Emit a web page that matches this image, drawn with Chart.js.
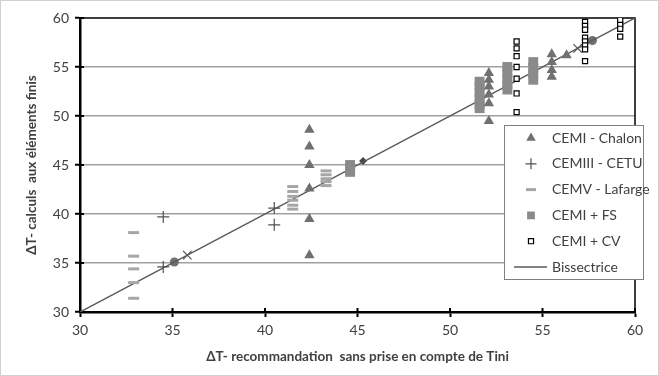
<!DOCTYPE html>
<html>
<head>
<meta charset="utf-8">
<script src="https://cdn.jsdelivr.net/npm/chart.js@4.4.1/dist/chart.umd.min.js"></script>
<style>
  html, body { margin: 0; padding: 0; background: #fff; }
  canvas { display: block; }
</style>
</head>
<body>
<canvas id="chart" width="659" height="376"></canvas>
<script>
// Valeurs
const axisTicks = [30, 35, 40, 45, 50, 55, 60];

const chalonX = [42.4, 42.4, 42.4, 42.4, 42.4, 42.4, 52.1, 52.1, 52.1, 52.1, 52.1, 52.1, 55.5, 55.5, 55.5, 55.5, 56.3];
const chalonY = [48.6, 46.9, 45.0, 42.6, 39.5, 35.8, 54.4, 53.7, 53.0, 52.2, 51.3, 49.5, 56.3, 55.5, 54.7, 54.0, 56.2];

const cetuX = [34.5, 34.5, 40.5, 40.5];
const cetuY = [39.7, 34.6, 40.6, 38.9];

const lafargeX = [32.9, 32.9, 32.9, 32.9, 32.9, 41.5, 41.5, 41.5, 41.5, 41.5, 41.5, 43.3, 43.3, 43.3, 43.3, 43.3];
const lafargeY = [38.1, 35.7, 34.4, 33.0, 31.4, 42.8, 42.3, 41.8, 41.4, 40.9, 40.5, 44.4, 44.0, 43.6, 43.3, 42.9];

const fsX = [44.6, 44.6, 44.6, 44.6, 51.6, 51.6, 51.6, 51.6, 51.6, 51.6, 53.1, 53.1, 53.1, 53.1, 53.1, 54.5, 54.5, 54.5, 54.5];
const fsY = [45.0, 44.75, 44.5, 44.3, 53.5, 53.0, 52.4, 51.8, 51.2, 50.8, 55.0, 54.4, 53.8, 53.2, 52.7, 55.5, 54.9, 54.3, 53.7];

const cvX = [53.6, 53.6, 53.6, 53.6, 53.6, 53.6, 53.6, 57.3, 57.3, 57.3, 57.3, 57.3, 57.3, 57.3, 57.3, 59.2, 59.2, 59.2, 59.2];
const cvY = [57.6, 56.9, 56.1, 55.0, 53.8, 52.3, 50.4, 59.6, 59.2, 58.8, 58.0, 57.6, 57.2, 56.8, 55.6, 59.8, 59.3, 58.9, 58.1];

const bisX = [30, 60];
const bisY = [30, 60];

// Points supplémentaires sur la bissectrice (hors légende)
const circleX = [35.1, 57.7];
const circleY = [35.1, 57.7];
const crossRotX = [35.8, 56.9];
const crossRotY = [35.8, 56.9];
const diamondX = [45.3];
const diamondY = [45.4];

const FONT = "Lato, 'Open Sans', sans-serif";
const TEXT = '#404040';

function pts(xs, ys) {
    return xs.map((x, i) => ({ x: x, y: ys[i] }));
}

// Cadre, axes et graduations croisées
const framePlugin = {
    id: 'frame',
    beforeDatasetsDraw(chart) {
        const { ctx, chartArea: a, scales } = chart;
        ctx.save();
        ctx.strokeStyle = '#000';
        // bord haut et droit
        ctx.lineWidth = 1.5;
        ctx.beginPath();
        ctx.moveTo(a.left, a.top);
        ctx.lineTo(a.right, a.top);
        ctx.lineTo(a.right, a.bottom);
        ctx.stroke();
        // graduations intérieures
        ctx.lineWidth = 2;
        axisTicks.forEach(v => {
            const py = scales.y.getPixelForValue(v);
            ctx.beginPath();
            ctx.moveTo(a.left, py);
            ctx.lineTo(a.left + 4, py);
            ctx.stroke();
            const px = scales.x.getPixelForValue(v);
            ctx.beginPath();
            ctx.moveTo(px, a.bottom);
            ctx.lineTo(px, a.bottom - 4);
            ctx.stroke();
        });
        ctx.restore();
    },
    afterDraw(chart) {
        const { ctx } = chart;
        ctx.save();
        ctx.strokeStyle = '#d0d0d0';
        ctx.lineWidth = 1;
        ctx.strokeRect(0.5, 0.5, chart.width - 1, chart.height - 1);
        ctx.restore();
    }
};

// Légende dessinée dans la zone du graphique
const legendPlugin = {
    id: 'boxLegend',
    afterDraw(chart) {
        const { ctx } = chart;
        const items = chart.data.datasets.filter(d => d.inLegend);
        const box = { x: 504, y: 125, w: 139, h: 154 };
        ctx.save();
        ctx.fillStyle = '#fff';
        ctx.fillRect(box.x, box.y, box.w, box.h);
        ctx.strokeStyle = '#808080';
        ctx.lineWidth = 1;
        ctx.strokeRect(box.x + 0.5, box.y + 0.5, box.w, box.h);
        ctx.font = '14px ' + FONT;
        ctx.textBaseline = 'middle';
        items.forEach((d, i) => {
            const cy = 138 + i * 25.8;
            if (d.showLine) {
                ctx.strokeStyle = d.borderColor;
                ctx.lineWidth = d.borderWidth;
                ctx.beginPath();
                ctx.moveTo(514, cy);
                ctx.lineTo(547, cy);
                ctx.stroke();
            } else {
                ctx.fillStyle = d.backgroundColor;
                ctx.strokeStyle = d.borderColor;
                ctx.lineWidth = d.pointBorderWidth;
                Chart.helpers.drawPoint(ctx, {
                    pointStyle: d.pointStyle,
                    radius: d.legendRadius,
                    borderWidth: d.pointBorderWidth,
                    rotation: 0
                }, 531, cy);
            }
            ctx.fillStyle = TEXT;
            ctx.fillText(d.label, 552, cy);
        });
        ctx.restore();
    }
};

const datasets = [
    {
        label: 'CEMI - Chalon', data: pts(chalonX, chalonY), inLegend: true,
        pointStyle: 'triangle', pointRadius: 6, legendRadius: 5.5, pointBorderWidth: 0,
        backgroundColor: '#707070', borderColor: '#707070'
    },
    {
        label: 'CEMIII - CETU', data: pts(cetuX, cetuY), inLegend: true,
        pointStyle: 'cross', pointRadius: 6, legendRadius: 5.5, pointBorderWidth: 1.2,
        backgroundColor: '#505050', borderColor: '#505050'
    },
    {
        label: 'CEMV - Lafarge', data: pts(lafargeX, lafargeY), inLegend: true,
        pointStyle: 'line', pointRadius: 5.5, legendRadius: 5, pointBorderWidth: 3,
        backgroundColor: '#a6a6a6', borderColor: '#a6a6a6'
    },
    {
        label: 'CEMI + FS', data: pts(fsX, fsY), inLegend: true,
        pointStyle: 'rect', pointRadius: 7, legendRadius: 5.5, pointBorderWidth: 0,
        backgroundColor: '#8a8a8a', borderColor: '#8a8a8a'
    },
    {
        label: 'CEMI + CV', data: pts(cvX, cvY), inLegend: true,
        pointStyle: 'rect', pointRadius: 3.6, legendRadius: 3.6, pointBorderWidth: 1.2,
        backgroundColor: '#ffffff', borderColor: '#000000'
    },
    {
        label: 'Bissectrice', data: pts(bisX, bisY), inLegend: true,
        showLine: true, pointRadius: 0, borderWidth: 1.5,
        borderColor: '#5a5a5a', backgroundColor: '#5a5a5a'
    },
    {
        label: 'cercles', data: pts(circleX, circleY),
        pointStyle: 'circle', pointRadius: 4.5, pointBorderWidth: 0,
        backgroundColor: '#707070', borderColor: '#707070'
    },
    {
        label: 'croix', data: pts(crossRotX, crossRotY),
        pointStyle: 'crossRot', pointRadius: 6, pointBorderWidth: 1.2,
        backgroundColor: '#505050', borderColor: '#505050'
    },
    {
        label: 'losange', data: pts(diamondX, diamondY),
        pointStyle: 'rectRot', pointRadius: 4, pointBorderWidth: 0,
        backgroundColor: '#454545', borderColor: '#454545'
    }
];

datasets.forEach(d => {
    if (d.pointBorderWidth !== undefined) d.borderWidth = d.pointBorderWidth;
    d.pointHoverRadius = d.pointRadius;
});

const tickFont = { family: FONT, size: 14 };
const titleFont = { family: FONT, size: 13.5, weight: 'bold' };

new Chart(document.getElementById('chart'), {
    type: 'scatter',
    data: { datasets: datasets },
    options: {
        responsive: false,
        animation: false,
        events: [],
        layout: { padding: { top: 18, right: 24, bottom: 0, left: 0 } },
        plugins: {
            legend: { display: false },
            tooltip: { enabled: false }
        },
        scales: {
            x: {
                type: 'linear',
                min: axisTicks[0],
                max: axisTicks[axisTicks.length - 1],
                afterFit: s => { s.height = 64; },
                afterBuildTicks: s => { s.ticks = axisTicks.map(v => ({ value: v })); },
                border: { display: true, color: '#000', width: 2.5 },
                grid: { drawOnChartArea: false, drawTicks: true, tickLength: 5, tickColor: '#000', tickWidth: 2 },
                ticks: { font: tickFont, color: TEXT, padding: 5, maxRotation: 0 },
                title: {
                    display: true,
                    text: '\u0394T- recommandation  sans prise en compte de Tini',
                    font: titleFont, color: TEXT,
                    padding: { top: 0, bottom: 11 }
                }
            },
            y: {
                type: 'linear',
                min: axisTicks[0],
                max: axisTicks[axisTicks.length - 1],
                afterFit: s => { s.width = 80; },
                afterBuildTicks: s => { s.ticks = axisTicks.map(v => ({ value: v })); },
                border: { display: true, color: '#000', width: 2.5 },
                grid: {
                    drawTicks: true, tickLength: 5, tickColor: '#000', tickWidth: 2,
                    color: c => (c.tick && (c.tick.value === 30 || c.tick.value === 60)) ? 'rgba(0,0,0,0)' : '#a0a0a0',
                    lineWidth: 1.5
                },
                ticks: { font: tickFont, color: TEXT, padding: 6 },
                title: {
                    display: true,
                    text: '\u0394T- calculs  aux éléments finis',
                    font: titleFont, color: TEXT,
                    padding: { top: 24, bottom: 0 }
                }
            }
        }
    },
    plugins: [framePlugin, legendPlugin]
});
</script>
</body>
</html>
